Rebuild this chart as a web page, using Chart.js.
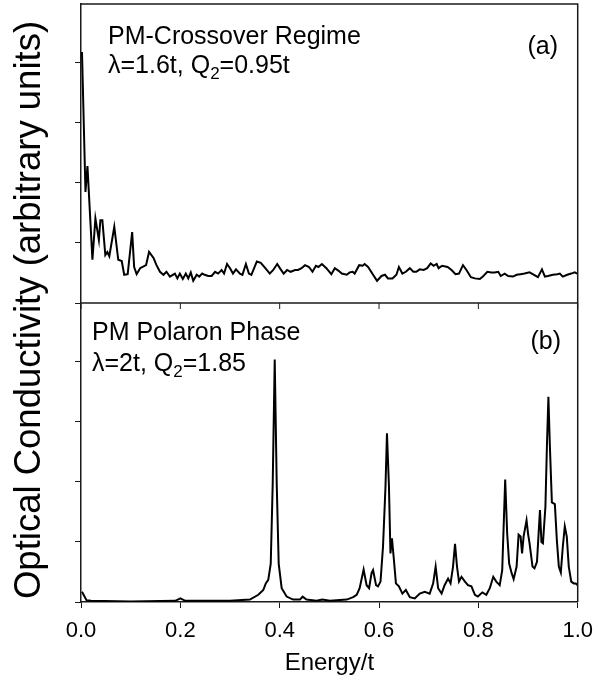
<!DOCTYPE html>
<html><head><meta charset="utf-8">
<script src="https://cdn.jsdelivr.net/npm/chart.js@4/dist/chart.umd.min.js"></script>
<style>html,body{margin:0;padding:0;background:#fff;}</style>
</head><body>
<canvas id="c" width="603" height="681"></canvas>
<script>
// ---- data ----
const energyA = [0.002,0.009,0.013,0.023,0.029,0.036,0.039,0.043,0.049,0.053,
0.057,0.067,0.075,0.082,0.087,0.094,0.103,0.107,0.112,0.119,
0.131,0.137,0.146,0.152,0.159,0.166,0.172,0.179,0.189,0.194,
0.199,0.205,0.211,0.216,0.221,0.226,0.233,0.238,0.244,0.249,
0.256,0.263,0.27,0.276,0.283,0.288,0.294,0.3,0.306,0.312,
0.32,0.325,0.332,0.338,0.343,0.35,0.354,0.362,0.368,0.374,
0.38,0.387,0.395,0.402,0.408,0.415,0.422,0.431,0.437,0.444,
0.451,0.459,0.466,0.473,0.478,0.485,0.494,0.504,0.511,0.518,
0.525,0.535,0.541,0.547,0.551,0.56,0.567,0.571,0.578,0.588,
0.596,0.605,0.612,0.618,0.627,0.635,0.64,0.647,0.654,0.662,
0.669,0.675,0.682,0.69,0.697,0.704,0.71,0.716,0.72,0.727,
0.738,0.746,0.754,0.761,0.769,0.776,0.785,0.793,0.803,0.809,
0.818,0.826,0.833,0.84,0.845,0.853,0.86,0.87,0.877,0.885,
0.893,0.903,0.912,0.92,0.928,0.934,0.94,0.95,0.959,0.964,
0.97,0.979,0.987,0.994,0.999];
const conductivityA = [4.18,1.85,2.28,0.72,1.41,1.05,1.38,1.38,0.8,0.85,
0.78,1.27,0.72,0.7,0.47,0.48,1.18,0.6,0.48,0.58,
0.63,0.85,0.75,0.63,0.52,0.47,0.52,0.44,0.49,0.41,
0.49,0.4,0.49,0.41,0.51,0.37,0.47,0.44,0.49,0.47,
0.45,0.45,0.52,0.49,0.55,0.49,0.65,0.58,0.49,0.56,
0.49,0.47,0.65,0.49,0.47,0.61,0.69,0.67,0.61,0.55,
0.49,0.55,0.65,0.56,0.49,0.55,0.52,0.55,0.55,0.58,
0.63,0.6,0.52,0.62,0.6,0.65,0.58,0.48,0.58,0.54,
0.49,0.47,0.51,0.52,0.49,0.63,0.62,0.65,0.6,0.47,
0.37,0.45,0.47,0.41,0.41,0.47,0.6,0.49,0.52,0.58,
0.52,0.52,0.56,0.55,0.58,0.66,0.62,0.65,0.58,0.62,
0.6,0.55,0.48,0.49,0.63,0.55,0.43,0.41,0.4,0.44,
0.52,0.51,0.51,0.52,0.45,0.49,0.45,0.44,0.47,0.48,
0.49,0.51,0.47,0.43,0.56,0.44,0.45,0.47,0.48,0.49,
0.44,0.47,0.49,0.51,0.49];

const energyB = [0.002,0.011,0.02,0.1,0.19,0.2,0.21,0.3,0.34,0.357,
0.367,0.372,0.377,0.382,0.386,0.39,0.394,0.398,0.404,0.414,
0.427,0.441,0.446,0.454,0.474,0.486,0.501,0.535,0.548,0.555,
0.561,0.569,0.575,0.58,0.585,0.588,0.594,0.598,0.603,0.608,
0.613,0.616,0.62,0.623,0.626,0.63,0.634,0.64,0.647,0.654,
0.662,0.672,0.682,0.692,0.702,0.709,0.714,0.719,0.726,0.732,
0.739,0.744,0.749,0.753,0.757,0.761,0.766,0.773,0.779,0.786,
0.793,0.799,0.808,0.816,0.823,0.83,0.836,0.843,0.848,0.854,
0.858,0.862,0.867,0.871,0.877,0.881,0.885,0.888,0.891,0.897,
0.9,0.903,0.909,0.913,0.918,0.924,0.927,0.93,0.935,0.938,
0.941,0.944,0.948,0.954,0.958,0.962,0.966,0.97,0.974,0.978,
0.982,0.987,0.992,0.996,1.0];
const conductivityB = [0.17,0.03,0.02,0.01,0.02,0.06,0.02,0.02,0.04,0.12,
0.2,0.31,0.37,0.64,1.98,4.04,1.98,0.64,0.23,0.09,
0.04,0.04,0.09,0.04,0.02,0.04,0.02,0.04,0.08,0.12,
0.23,0.54,0.28,0.23,0.48,0.53,0.28,0.26,0.34,0.92,
1.92,2.81,1.92,0.81,1.06,0.7,0.31,0.26,0.14,0.2,
0.08,0.06,0.14,0.17,0.14,0.31,0.59,0.23,0.14,0.28,
0.39,0.31,0.59,0.97,0.59,0.34,0.42,0.34,0.28,0.26,
0.12,0.09,0.16,0.12,0.23,0.42,0.34,0.28,0.53,2.04,
1.14,0.64,0.48,0.38,0.59,1.12,1.09,0.81,1.09,1.36,
1.14,0.98,0.59,0.56,0.67,1.53,1.0,0.98,1.59,2.59,
3.42,2.59,1.66,1.63,1.03,0.59,0.49,0.92,1.26,1.09,
0.59,0.34,0.31,0.31,0.28];

const xTicks = [0, 0.2, 0.4, 0.6, 0.8, 1.0];
const xTickLabels = ['0.0', '0.2', '0.4', '0.6', '0.8', '1.0'];
const yTicksPanel = [0, 1, 2, 3, 4];
const panelMax = 4.98;

const xTitle = 'Energy/t';
const yTitle = 'Optical Conductivity (arbitrary units)';
const panelATitle = 'PM-Crossover Regime';
const panelAParams = ['\u03bb=1.6t, Q', '2', '=0.95t'];
const panelATag = '(a)';
const panelBTitle = 'PM Polaron Phase';
const panelBParams = ['\u03bb=2t, Q', '2', '=1.85'];
const panelBTag = '(b)';

// ---- chart ----
const FONT = '"Liberation Sans", Arial, Helvetica, sans-serif';
const INK = '#1a1a1a';
const TXT = 25;

function drawParams(ctx, parts, x, y) {
  ctx.font = TXT + 'px ' + FONT;
  ctx.fillText(parts[0], x, y);
  let w = ctx.measureText(parts[0]).width;
  ctx.font = '17px ' + FONT;
  ctx.fillText(parts[1], x + w, y + 8);
  w += ctx.measureText(parts[1]).width;
  ctx.font = TXT + 'px ' + FONT;
  ctx.fillText(parts[2], x + w, y);
}

const decor = {
  id: 'decor',
  afterDatasetsDraw(chart) {
    const {ctx, chartArea: a, scales: {x, y}} = chart;
    ctx.save();
    ctx.strokeStyle = INK;
    ctx.lineWidth = 1.5;
    ctx.beginPath();
    ctx.moveTo(a.left, a.top);
    ctx.lineTo(a.right, a.top);
    ctx.lineTo(a.right, a.bottom);
    ctx.stroke();
    const ySep = y.getPixelForValue(panelMax);
    ctx.beginPath();
    ctx.moveTo(a.left, ySep);
    ctx.lineTo(a.right, ySep);
    ctx.stroke();
    ctx.lineWidth = 1;
    ctx.beginPath();
    xTicks.forEach(v => {
      const px = x.getPixelForValue(v);
      ctx.moveTo(px, ySep);
      ctx.lineTo(px, ySep + 6);
    });
    ctx.stroke();

    // annotations
    ctx.fillStyle = '#000';
    ctx.textBaseline = 'middle';
    ctx.textAlign = 'left';
    ctx.font = TXT + 'px ' + FONT;
    ctx.fillText(panelATitle, a.left + 27, a.top + 33);
    drawParams(ctx, panelAParams, a.left + 27, a.top + 62);
    ctx.font = TXT + 'px ' + FONT;
    ctx.fillText(panelBTitle, a.left + 11, ySep + 30);
    drawParams(ctx, panelBParams, a.left + 11, ySep + 61);
    ctx.font = TXT + 'px ' + FONT;
    ctx.textAlign = 'center';
    ctx.fillText(panelATag, a.right - 35, a.top + 43);
    ctx.fillText(panelBTag, a.right - 32, ySep + 39);

    // y title
    ctx.font = '36.5px ' + FONT;
    ctx.translate(30, 310);
    ctx.rotate(-Math.PI / 2);
    ctx.textAlign = 'center';
    ctx.textBaseline = 'middle';
    ctx.fillText(yTitle, 0, 0);
    ctx.restore();
  }
};

new Chart(document.getElementById('c'), {
  type: 'line',
  data: {
    datasets: [
      {
        label: 'PM-Crossover Regime',
        data: energyA.map((e, i) => ({x: e, y: conductivityA[i]})),
        yAxisID: 'yA',
        borderColor: '#000', borderWidth: 2, pointRadius: 0, tension: 0, fill: false
      },
      {
        label: 'PM Polaron Phase',
        data: energyB.map((e, i) => ({x: e, y: conductivityB[i]})),
        yAxisID: 'y',
        borderColor: '#000', borderWidth: 2, pointRadius: 0, tension: 0, fill: false
      }
    ]
  },
  options: {
    responsive: false,
    animation: false,
    devicePixelRatio: 1,
    layout: {padding: {left: 0, top: 4, right: 25, bottom: 0}},
    plugins: {legend: {display: false}, tooltip: {enabled: false}},
    scales: {
      x: {
        type: 'linear', min: 0, max: 1, position: 'bottom',
        afterBuildTicks: s => { s.ticks = xTicks.map(v => ({value: v})); },
        afterFit: s => { s.height = 79; },
        ticks: {
          callback: v => xTickLabels[xTicks.indexOf(v)] ?? v.toFixed(1),
          font: {family: FONT, size: 22}, color: '#000', padding: 10, maxRotation: 0
        },
        grid: {drawOnChartArea: false, drawTicks: true, tickLength: 6, color: INK, lineWidth: 1},
        border: {display: true, color: INK, width: 1.5},
        title: {display: true, text: xTitle, color: '#000', font: {family: FONT, size: 24}, padding: {top: 0, bottom: 3}}
      },
      y: {
        type: 'linear', min: 0, max: 2 * panelMax, position: 'left',
        afterBuildTicks: s => {
          s.ticks = yTicksPanel.map(v => ({value: v})).concat(yTicksPanel.map(v => ({value: v + panelMax})));
        },
        afterFit: s => { s.width = 81; },
        ticks: {display: false},
        grid: {drawOnChartArea: false, drawTicks: true, tickLength: 6, color: INK, lineWidth: 1},
        border: {display: true, color: INK, width: 1.5}
      },
      yA: {
        type: 'linear', min: -panelMax, max: panelMax, display: false
      }
    }
  },
  plugins: [decor]
});
</script>
</body></html>
